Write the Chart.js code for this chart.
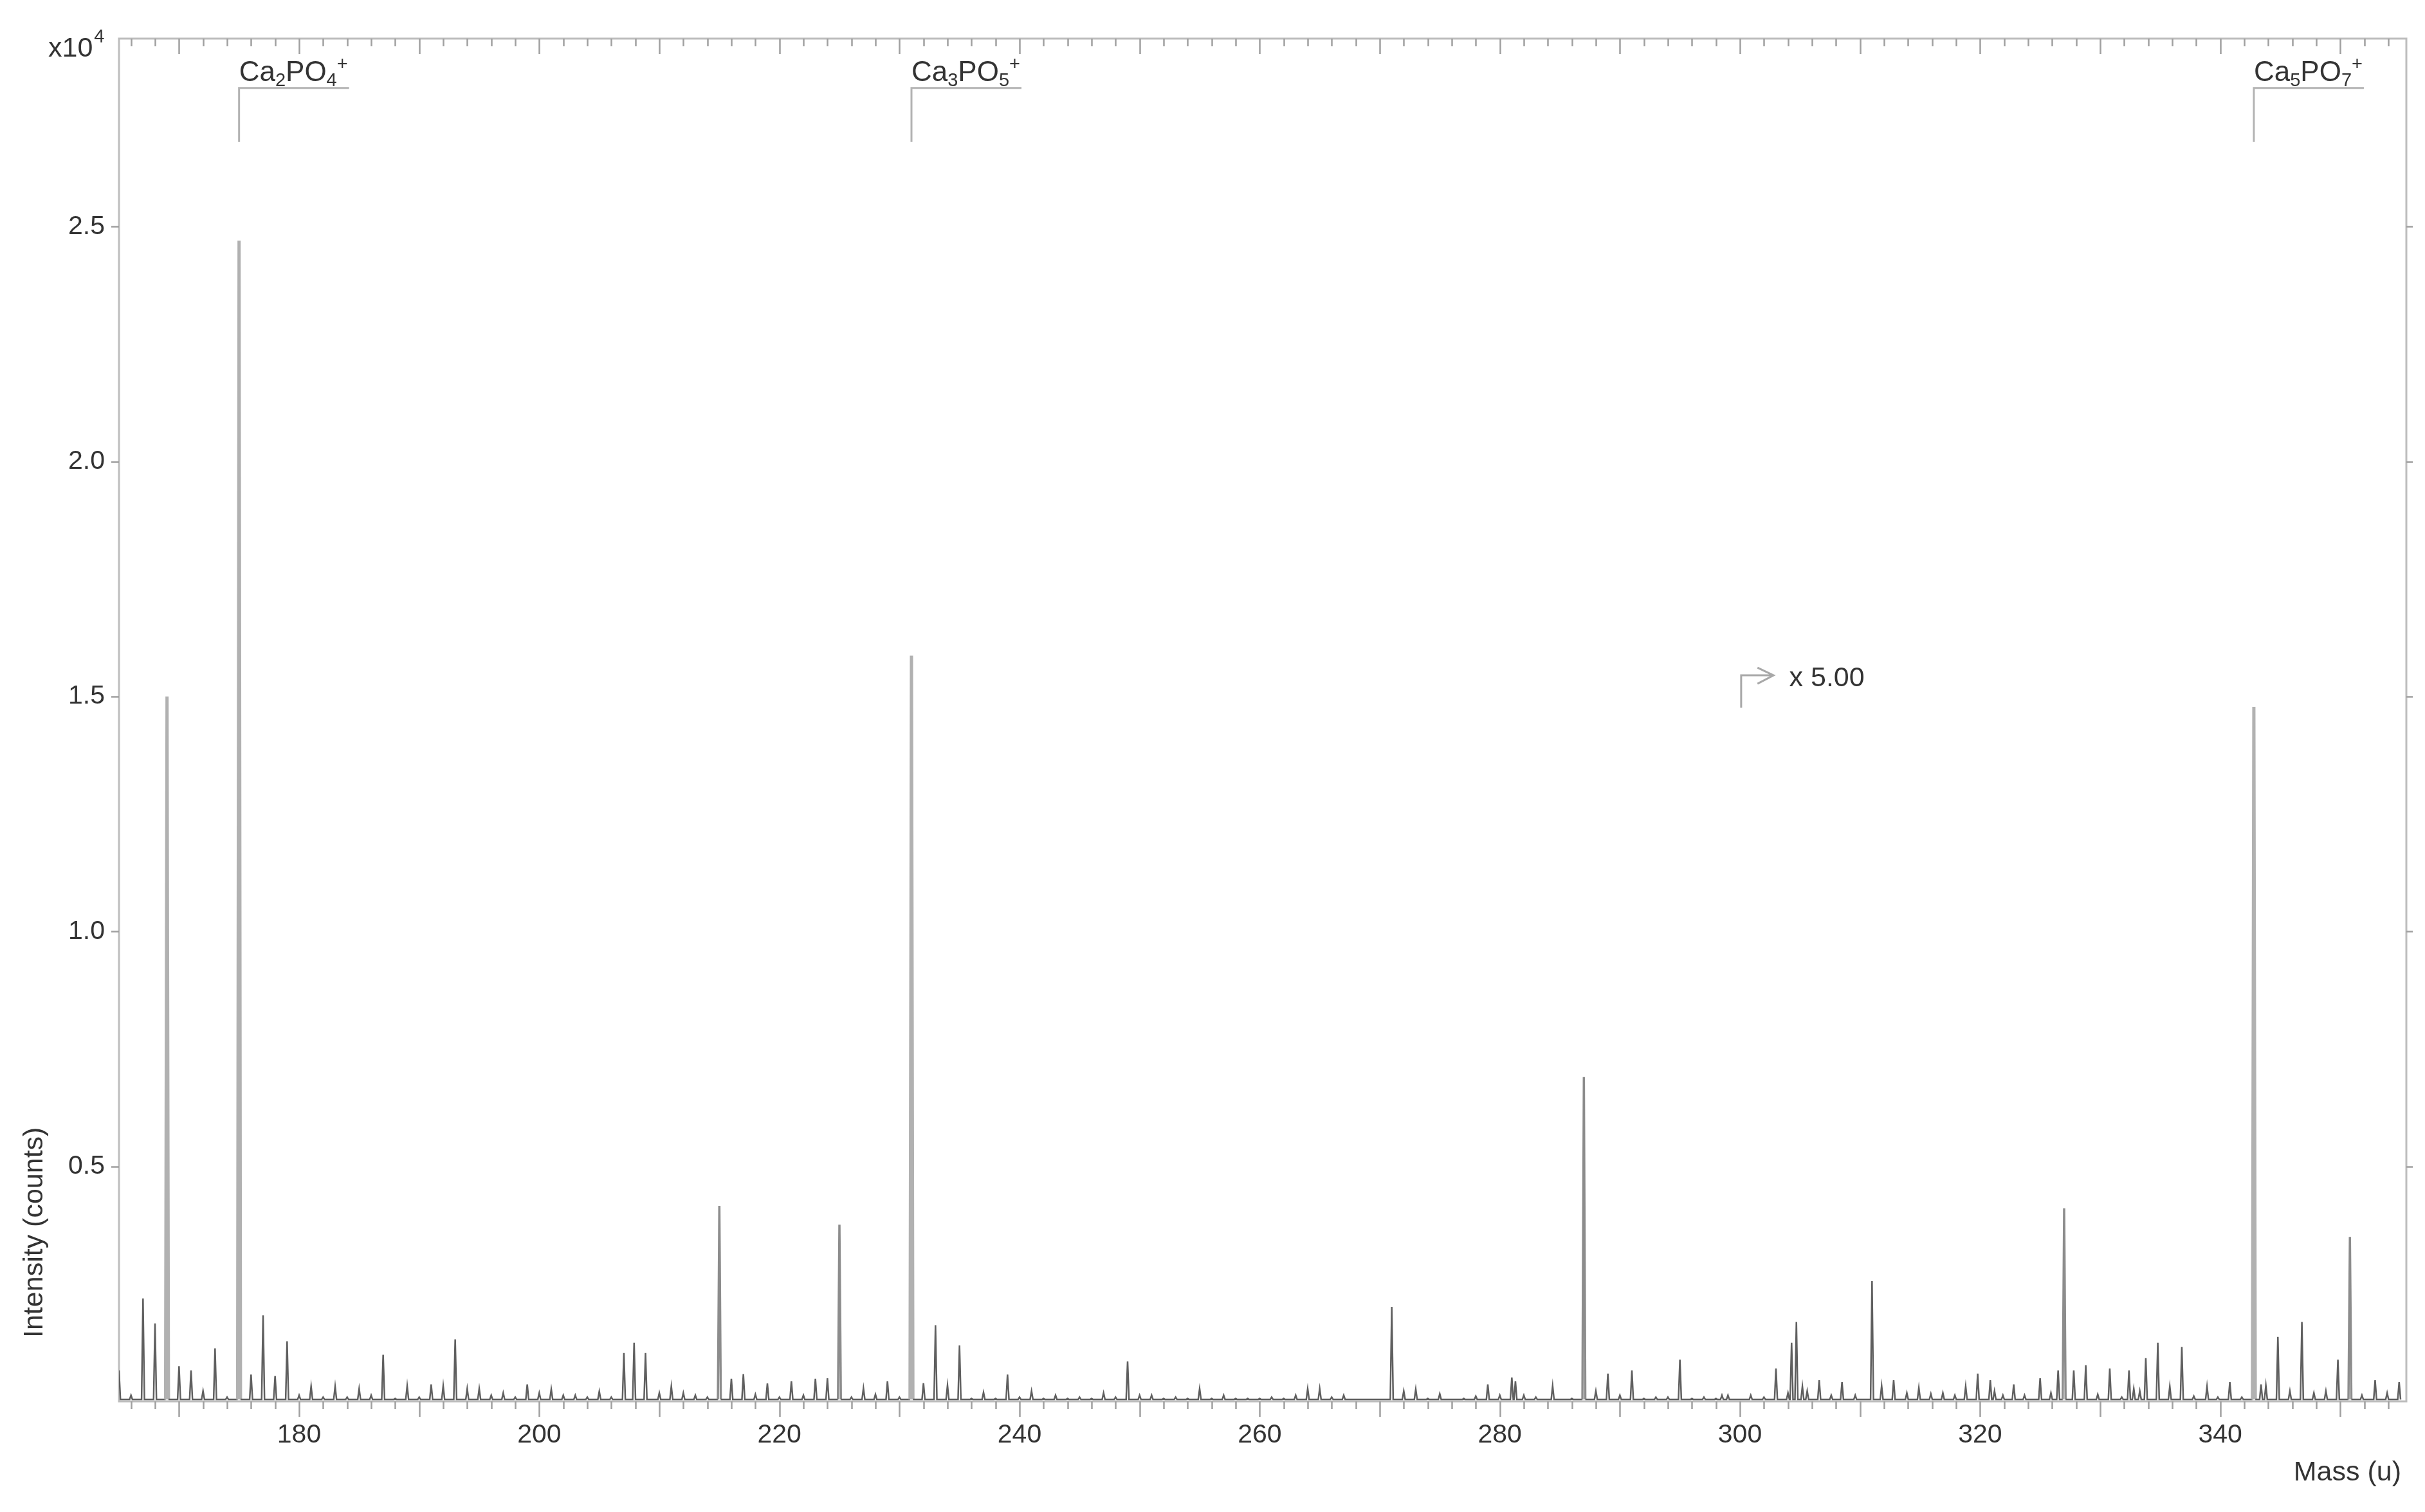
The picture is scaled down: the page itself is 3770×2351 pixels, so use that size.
<!DOCTYPE html>
<html>
<head>
<meta charset="utf-8">
<script src="https://cdn.jsdelivr.net/npm/chart.js@4.4.1/dist/chart.umd.min.js"></script>
<style>
  html, body { margin: 0; padding: 0; background: #fff; }
  #wrap { width: 3770px; height: 2351px; }
</style>
</head>
<body>
<div id="wrap"><canvas id="c" width="3770" height="2351"></canvas></div>
<script>
// ---------------- DATA ----------------
// Peak positions (mass, u) and intensities (x10^4 counts, as displayed; >300 u shown x5)
const peakMass = [
  165, 166, 167, 168, 169, 170, 171, 172, 173, 174,
  175, 176, 177, 178, 179, 180, 181, 182, 183, 184,
  185, 186, 187, 188, 189, 190, 191, 192, 193, 194,
  195, 196, 197, 198, 199, 200, 201, 202, 203, 204,
  205, 206, 207.05, 207.9, 208.85, 210, 211, 212, 213, 214,
  215, 216, 217, 218, 219, 220, 221, 222, 223, 224,
  225, 226, 227, 228, 229, 230, 231, 232, 233, 234,
  235, 236, 237, 238, 239, 240, 241, 242, 243, 244,
  245, 246, 247, 248, 249, 250, 251, 252, 253, 254,
  255, 256, 257, 258, 259, 260, 261, 262, 263, 264,
  265, 266, 267, 268, 269, 271, 272, 273, 274, 275,
  276, 277, 278, 279, 280, 281, 281.3, 282, 283, 284.4,
  286, 287, 288, 289, 290, 291, 292, 293, 294, 295,
  296, 297, 298, 298.5, 299, 300.9, 302, 303, 304, 304.3,
  304.7, 305.2, 305.6, 306.6, 307.6, 308.5, 309.6, 311, 311.8, 312.8,
  313.9, 314.9, 315.9, 316.9, 317.9, 318.8, 319.8, 320.85, 321.2, 321.9,
  322.8, 323.7, 325.0, 325.9, 326.5, 327, 327.8, 328.8, 329.8, 330.8,
  331.8, 332.4, 332.8, 333.3, 333.8, 334.8, 335.8, 336.8, 337.8, 338.9,
  339.8, 340.8, 341.8, 342.8, 343.4, 343.8, 344.8, 345.8, 346.8, 347.8,
  348.8, 349.8, 350.8, 351.8, 352.9, 353.9, 354.9
];
const peakIntensity = [
  0.066, 0.013, 0.219, 0.166, 1.50, 0.075, 0.066, 0.022, 0.113, 0.009,
  2.47, 0.057, 0.183, 0.054, 0.128, 0.013, 0.032, 0.009, 0.032, 0.009,
  0.027, 0.013, 0.099, 0.006, 0.033, 0.009, 0.036, 0.033, 0.132, 0.027,
  0.027, 0.013, 0.018, 0.009, 0.036, 0.018, 0.026, 0.013, 0.013, 0.009,
  0.021, 0.009, 0.103, 0.125, 0.103, 0.018, 0.032, 0.018, 0.013, 0.009,
  0.416, 0.048, 0.058, 0.015, 0.038, 0.009, 0.043, 0.013, 0.048, 0.049,
  0.376, 0.009, 0.028, 0.015, 0.043, 0.009, 1.587, 0.039, 0.162, 0.034,
  0.119, 0.006, 0.019, 0.006, 0.057, 0.009, 0.022, 0.006, 0.013, 0.006,
  0.009, 0.006, 0.018, 0.009, 0.085, 0.013, 0.013, 0.006, 0.009, 0.006,
  0.027, 0.006, 0.013, 0.006, 0.006, 0.006, 0.009, 0.006, 0.013, 0.027,
  0.027, 0.009, 0.013, 0.004, 0.004, 0.201, 0.022, 0.026, 0.006, 0.016,
  0.004, 0.006, 0.011, 0.036, 0.013, 0.051, 0.043, 0.013, 0.009, 0.033,
  0.006, 0.69, 0.022, 0.059, 0.013, 0.066, 0.006, 0.009, 0.009, 0.089,
  0.006, 0.009, 0.006, 0.013, 0.013, 0.013, 0.009, 0.070, 0.018, 0.125,
  0.169, 0.032, 0.022, 0.045, 0.013, 0.041, 0.013, 0.256, 0.033, 0.045,
  0.018, 0.029, 0.016, 0.018, 0.013, 0.032, 0.059, 0.045, 0.022, 0.013,
  0.036, 0.013, 0.049, 0.018, 0.066, 0.411, 0.066, 0.077, 0.015, 0.070,
  0.009, 0.066, 0.027, 0.022, 0.092, 0.125, 0.032, 0.116, 0.011, 0.032,
  0.009, 0.041, 0.009, 1.478, 0.036, 0.034, 0.137, 0.022, 0.169, 0.018,
  0.022, 0.089, 0.35, 0.013, 0.045, 0.018, 0.041
];
const baseLevel = 0.004;      // noise floor between peaks
const peakHalfWidth = 0.12;   // u

// Axis settings / tick labels
const xMin = 165, xMax = 355.5;
const yMin = 0, yMax = 2.9;
const xLabelStep = 20;
const yLabelStep = 0.5;
const xAxisTitle = 'Mass (u)';
const yAxisTitle = 'Intensity (counts)';
const yScaleNote = ['x10', '4'];

// Annotations
const annotMass = [175, 231, 342.8];
const annotFormula = [
  [['Ca'], ['2', 'sub'], ['PO'], ['4', 'sub'], ['+', 'sup']],
  [['Ca'], ['3', 'sub'], ['PO'], ['5', 'sub'], ['+', 'sup']],
  [['Ca'], ['5', 'sub'], ['PO'], ['7', 'sub'], ['+', 'sup']]
];
const annotLow = 2.68, annotHigh = 2.795;
const zoomMark = { mass: 300.1, end: 302.8, low: 1.476, high: 1.545, text: 'x 5.00', textMass: 304.1 };

// ---------------- BUILD ----------------
const FONT = "'Liberation Sans', Arial, Helvetica, sans-serif";
const TEXT = '#333333';

const points = [];
for (let i = 0; i < peakMass.length; i++) {
  const m = peakMass[i];
  points.push({ x: m - peakHalfWidth, y: baseLevel });
  points.push({ x: m, y: peakIntensity[i] });
  points.push({ x: m + peakHalfWidth, y: baseLevel });
}
points.sort((a, b) => a.x - b.x);

function segMax(ctx) { return Math.max(ctx.p0.parsed.y, ctx.p1.parsed.y); }

function drawFormula(ctx, parts, x, y, size) {
  let cx = x;
  const small = Math.round(size * 0.66);
  for (const p of parts) {
    const kind = p[1];
    ctx.font = (kind ? small : size) + 'px ' + FONT;
    const dy = kind === 'sub' ? size * 0.19 : kind === 'sup' ? -size * 0.38 : 0;
    ctx.fillText(p[0], cx, y + dy);
    cx += ctx.measureText(p[0]).width;
  }
  return cx - x;
}

const decor = {
  id: 'decor',
  beforeDatasetsDraw(chart) {
    const { ctx, chartArea: a, scales: { x, y } } = chart;
    ctx.save();
    // frame
    ctx.strokeStyle = '#bdbdbd';
    ctx.lineWidth = 3;
    ctx.strokeRect(a.left, a.top, a.right - a.left, a.bottom - a.top);
    // x ticks (bottom outward, top inward)
    ctx.strokeStyle = '#a0a0a0';
    ctx.lineWidth = 2.5;
    ctx.beginPath();
    for (let m = Math.ceil(xMin / 2) * 2; m <= xMax; m += 2) {
      const px = Math.round(x.getPixelForValue(m)) + 0.5;
      const len = (m % 10 === 0) ? 24 : 12;
      ctx.moveTo(px, a.bottom); ctx.lineTo(px, a.bottom + len);
      ctx.moveTo(px, a.top); ctx.lineTo(px, a.top + len);
    }
    // y ticks (left and right outward)
    for (const t of y.ticks) {
      if (t.value === 0) continue;
      const py = Math.round(y.getPixelForValue(t.value)) + 0.5;
      ctx.moveTo(a.left - 12, py); ctx.lineTo(a.left, py);
      ctx.moveTo(a.right, py); ctx.lineTo(a.right + 10, py);
    }
    ctx.stroke();
    ctx.restore();
  },
  afterDatasetsDraw(chart) {
    const { ctx, chartArea: a, scales: { x, y } } = chart;
    ctx.save();
    ctx.fillStyle = TEXT;
    ctx.textAlign = 'left';
    ctx.textBaseline = 'alphabetic';
    // ion annotations
    for (let i = 0; i < annotMass.length; i++) {
      const px = x.getPixelForValue(annotMass[i]);
      const yHi = y.getPixelForValue(annotHigh);
      const yLo = y.getPixelForValue(annotLow);
      ctx.fillStyle = TEXT;
      const w = drawFormula(ctx, annotFormula[i], px, yHi - 11, 44);
      ctx.strokeStyle = '#b3b3b3';
      ctx.lineWidth = 3;
      ctx.beginPath();
      ctx.moveTo(px, yLo); ctx.lineTo(px, yHi); ctx.lineTo(px + w + 2, yHi);
      ctx.stroke();
    }
    // magnification marker
    {
      const px = x.getPixelForValue(zoomMark.mass);
      const pe = x.getPixelForValue(zoomMark.end);
      const yHi = y.getPixelForValue(zoomMark.high);
      const yLo = y.getPixelForValue(zoomMark.low);
      ctx.strokeStyle = '#a8a8a8';
      ctx.lineWidth = 3;
      ctx.beginPath();
      ctx.moveTo(px, yLo); ctx.lineTo(px, yHi); ctx.lineTo(pe, yHi);
      ctx.moveTo(pe - 25, yHi - 12); ctx.lineTo(pe, yHi); ctx.lineTo(pe - 25, yHi + 13);
      ctx.stroke();
      ctx.font = '43px ' + FONT;
      ctx.fillStyle = TEXT;
      ctx.fillText(zoomMark.text, x.getPixelForValue(zoomMark.textMass), yHi + 17);
    }
    // y scale note x10^4
    ctx.font = '43px ' + FONT;
    ctx.fillStyle = TEXT;
    ctx.fillText(yScaleNote[0], a.left - 110, a.top + 28);
    const w0 = ctx.measureText(yScaleNote[0]).width;
    ctx.font = '29px ' + FONT;
    ctx.fillText(yScaleNote[1], a.left - 110 + w0 + 2, a.top + 6);
    // axis titles
    ctx.font = '43px ' + FONT;
    ctx.textAlign = 'right';
    ctx.fillText(xAxisTitle, a.right - 8, a.bottom + 123);
    ctx.save();
    ctx.translate(a.left - 131, a.bottom - 99);
    ctx.rotate(-Math.PI / 2);
    ctx.textAlign = 'left';
    ctx.textBaseline = 'middle';
    ctx.fillText(yAxisTitle, 0, 0);
    ctx.restore();
    ctx.restore();
  }
};

new Chart(document.getElementById('c'), {
  type: 'line',
  data: {
    datasets: [{
      data: points,
      borderColor: '#5f5f5f',
      borderWidth: 2.5,
      pointRadius: 0,
      tension: 0,
      fill: false,
      segment: {
        borderColor: ctx => segMax(ctx) > 1.0 ? '#b1b1b1' : (segMax(ctx) > 0.3 ? '#8c8c8c' : '#5f5f5f'),
        borderWidth: ctx => segMax(ctx) > 1.0 ? 5 : (segMax(ctx) > 0.3 ? 3.5 : 2.5)
      }
    }]
  },
  options: {
    responsive: false,
    animation: false,
    devicePixelRatio: 1,
    layout: { padding: { top: 60, right: 29, left: 0, bottom: 0 } },
    plugins: { legend: { display: false }, tooltip: { enabled: false } },
    scales: {
      x: {
        type: 'linear', min: xMin, max: xMax,
        grid: { display: false, drawTicks: false },
        border: { display: false },
        ticks: {
          stepSize: xLabelStep, includeBounds: false, autoSkip: false, maxRotation: 0,
          padding: 28, color: TEXT, font: { family: FONT, size: 41 },
          callback: v => String(v)
        },
        afterFit: s => { s.height = 172; }
      },
      y: {
        min: yMin, max: yMax,
        grid: { display: false, drawTicks: false },
        border: { display: false },
        ticks: {
          stepSize: yLabelStep, includeBounds: false,
          padding: 22, color: TEXT, font: { family: FONT, size: 41 },
          callback: v => v === 0 ? '' : Number(v).toFixed(1)
        },
        afterFit: s => { s.width = 185; }
      }
    }
  },
  plugins: [decor]
});
</script>
</body>
</html>
